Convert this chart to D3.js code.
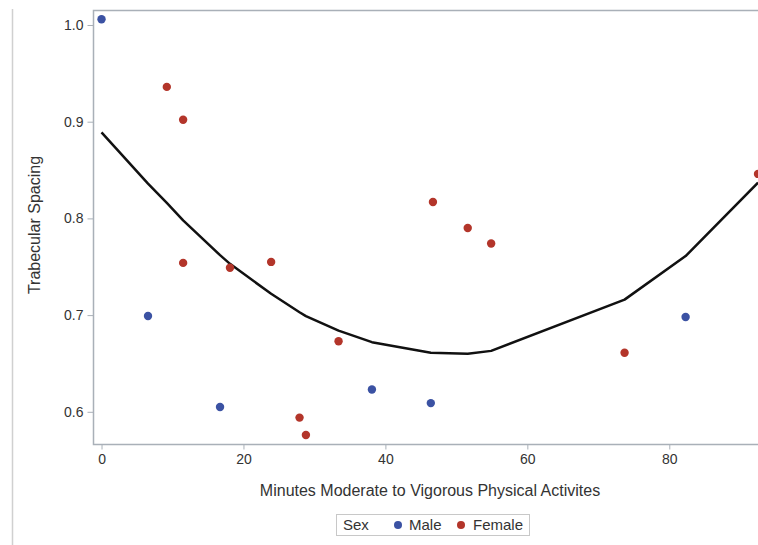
<!DOCTYPE html>
<html>
<head>
<meta charset="utf-8">
<script src="https://cdn.jsdelivr.net/npm/d3@7"></script>
<style>
  body { margin: 0; background: #fff; }
  text { font-family: "Liberation Sans", Arial, sans-serif; fill: #333; }
</style>
</head>
<body>
<script>
// data
var maleX = [0, 6.55, 16.7, 38.1, 46.4, 82.3];
var maleY = [1.006, 0.699, 0.605, 0.623, 0.609, 0.698];
var femaleX = [9.2, 11.5, 11.5, 18.1, 23.9, 27.9, 28.8, 33.4, 46.7, 51.6, 54.9, 73.7, 92.5];
var femaleY = [0.936, 0.902, 0.754, 0.749, 0.755, 0.594, 0.576, 0.673, 0.817, 0.790, 0.774, 0.661, 0.846];
var fitX = [0, 6.55, 9.2, 11.5, 16.7, 18.1, 23.9, 27.9, 28.8, 33.4, 38.1, 46.4, 51.6, 54.9, 73.7, 82.3, 92.5];
var fitY = [0.889, 0.836, 0.816, 0.798, 0.762, 0.753, 0.722, 0.703, 0.699, 0.684, 0.672, 0.661, 0.660, 0.663, 0.716, 0.761, 0.837];
var xTicks = [0, 20, 40, 60, 80];
var yTicks = [0.6, 0.7, 0.8, 0.9, 1.0];

var width = 758;
var height = 545;
var pLeft = 93, pRight = 758, pTop = 10, pBottom = 444;

var svg = d3.select("body").append("svg")
    .attr("width", width)
    .attr("height", height);

var x = d3.scaleLinear().domain([-1.2, 92.5]).range([pLeft, pRight]);
var y = d3.scaleLinear().domain([0.5667, 1.0155]).range([pBottom, pTop]);

var blue = "#3b52a3";
var red = "#b3352a";
var frame = "#a9b0b8";

// outer image edge line
svg.append("line").attr("x1", 12.5).attr("y1", 9).attr("x2", 12.5).attr("y2", height)
    .attr("stroke", "#d0d0d0").attr("stroke-width", 1.5);

// plot frame (right side is cut off)
svg.append("path")
    .attr("d", "M" + pRight + "," + (pTop + 0.5) + "H" + (pLeft + 0.5) + "V" + (pBottom + 0.5) + "H" + pRight)
    .attr("fill", "none").attr("stroke", frame).attr("stroke-width", 1.5);

// axes
var xAxis = svg.append("g").attr("transform", "translate(0," + (pBottom + 0.5) + ")")
    .call(d3.axisBottom(x).tickValues(xTicks).tickSize(5).tickPadding(5).tickFormat(d3.format("d")));
var yAxis = svg.append("g").attr("transform", "translate(" + (pLeft + 0.5) + ",0)")
    .call(d3.axisLeft(y).tickValues(yTicks).tickSize(6).tickPadding(4).tickFormat(d3.format(".1f")));
[xAxis, yAxis].forEach(function(a) {
    a.select(".domain").remove();
    a.selectAll(".tick line").attr("stroke", frame);
    a.selectAll(".tick text").style("font-size", "14px").attr("fill", "#333")
        .style("font-family", "Liberation Sans, Arial, sans-serif");
});

// fit line
var line = d3.line().x(function(d, i) { return x(fitX[i]); }).y(function(d) { return y(d); });
svg.append("path").datum(fitY)
    .attr("d", line)
    .attr("fill", "none").attr("stroke", "#111").attr("stroke-width", 2.5)
    .attr("stroke-linejoin", "round");

// points
svg.selectAll(".male").data(maleY).enter().append("circle")
    .attr("class", "male")
    .attr("cx", function(d, i) { return x(maleX[i]); })
    .attr("cy", function(d) { return y(d); })
    .attr("r", 4.2).attr("fill", blue);
svg.selectAll(".female").data(femaleY).enter().append("circle")
    .attr("class", "female")
    .attr("cx", function(d, i) { return x(femaleX[i]); })
    .attr("cy", function(d) { return y(d); })
    .attr("r", 4.2).attr("fill", red);

// axis titles
svg.append("text")
    .attr("x", 430).attr("y", 496)
    .attr("text-anchor", "middle").style("font-size", "16px")
    .text("Minutes Moderate to Vigorous Physical Activites");
svg.append("text")
    .attr("transform", "translate(40,225) rotate(-90)")
    .attr("text-anchor", "middle").style("font-size", "16px")
    .text("Trabecular Spacing");

// legend
var lg = svg.append("g");
lg.append("rect").attr("x", 336.5).attr("y", 514.5).attr("width", 193).attr("height", 21)
    .attr("fill", "none").attr("stroke", "#c8c8c8");
lg.append("text").attr("x", 343).attr("y", 530).style("font-size", "15px").text("Sex");
lg.append("circle").attr("cx", 398).attr("cy", 525).attr("r", 4).attr("fill", blue);
lg.append("text").attr("x", 409).attr("y", 530).style("font-size", "15px").text("Male");
lg.append("circle").attr("cx", 461).attr("cy", 525).attr("r", 4).attr("fill", red);
lg.append("text").attr("x", 473).attr("y", 530).style("font-size", "15px").text("Female");
</script>
</body>
</html>
